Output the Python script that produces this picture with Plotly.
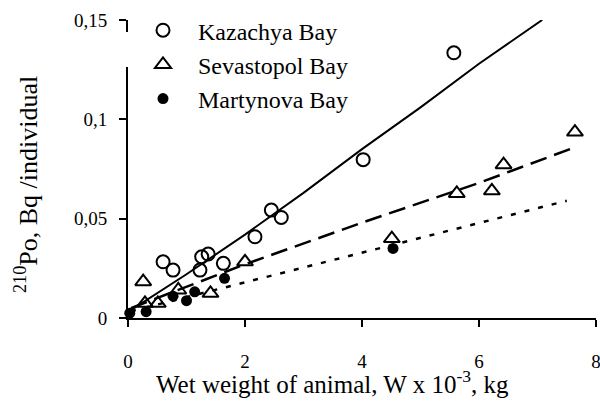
import plotly.graph_objects as go

# Kazachya Bay (open circles)
kaz_x = [0.60, 0.77, 1.23, 1.26, 1.37, 1.63, 2.17, 2.45, 2.62, 4.02, 5.57]
kaz_y = [0.0283, 0.0241, 0.0241, 0.0308, 0.0322, 0.0275, 0.0409, 0.0543, 0.0506, 0.0797, 0.1335]
# Sevastopol Bay (open triangles)
sev_x = [0.26, 0.29, 0.51, 0.86, 1.41, 2.00, 4.51, 5.62, 6.22, 6.42, 7.64]
sev_y = [0.0183, 0.0074, 0.0074, 0.0141, 0.0124, 0.0283, 0.0400, 0.0627, 0.0640, 0.0772, 0.0936]
# Martynova Bay (filled circles)
mar_x = [0.03, 0.31, 0.77, 1.00, 1.14, 1.65, 4.53]
mar_y = [0.0024, 0.0032, 0.0110, 0.0087, 0.0132, 0.0200, 0.0350]

# fitted curves
kaz_fit_x = [0.05, 1, 2, 3, 4, 5, 6, 7.08]
kaz_fit_y = [0.004, 0.022, 0.042, 0.063, 0.085, 0.106, 0.128, 0.150]
sev_fit_x = [0.05, 2, 4, 6, 7.6]
sev_fit_y = [0.005, 0.027, 0.048, 0.068, 0.0855]
mar_fit_x = [0.05, 2, 4, 6, 7.5]
mar_fit_y = [0.0034, 0.018, 0.033, 0.048, 0.059]

legend_names = ["Kazachya Bay", "Sevastopol Bay", "Martynova Bay"]
x_ticks = [0, 2, 4, 6, 8]
x_ticktext = ["0", "2", "4", "6", "8"]
y_ticks = [0, 0.05, 0.1, 0.15]
y_ticktext = ["0", "0,05", "0,1", "0,15"]

FONT = "Liberation Serif"
fig = go.Figure()

fig.add_trace(go.Scatter(x=kaz_fit_x, y=kaz_fit_y, mode="lines", showlegend=False,
                         line=dict(color="black", width=2)))
fig.add_trace(go.Scatter(x=sev_fit_x, y=sev_fit_y, mode="lines", showlegend=False,
                         line=dict(color="black", width=2.5, dash="17px,8px")))
fig.add_trace(go.Scatter(x=mar_fit_x, y=mar_fit_y, mode="lines", showlegend=False,
                         line=dict(color="black", width=2.5, dash="5px,9px")))

fig.add_trace(go.Scatter(x=kaz_x, y=kaz_y, mode="markers", name=legend_names[0], legendgroup="a",
                         cliponaxis=False,
                         marker=dict(symbol="circle-open", size=13, color="black", line=dict(width=2))))
fig.add_trace(go.Scatter(x=sev_x, y=sev_y, mode="markers", name=legend_names[1], legendgroup="b",
                         cliponaxis=False,
                         marker=dict(symbol="triangle-up-open", size=14, color="black", line=dict(width=2))))
fig.add_trace(go.Scatter(x=mar_x, y=mar_y, mode="markers", name=legend_names[2], legendgroup="c",
                         cliponaxis=False,
                         marker=dict(symbol="circle", size=11, color="black")))

axis_common = dict(showline=True, linewidth=2, linecolor="black", ticks="outside",
                   tickwidth=2, ticklen=7, tickcolor="black", showgrid=False, zeroline=False,
                   ticklabeloverflow="allow", automargin=False,
                   tickfont=dict(family=FONT, size=19, color="black"))

fig.update_xaxes(range=[0, 8], tickvals=x_ticks, ticktext=x_ticktext, ticklabelstandoff=18, **axis_common)
fig.update_yaxes(range=[0, 0.15], tickvals=y_ticks, ticktext=y_ticktext, ticklabelstandoff=8, **axis_common)

fig.update_layout(
    width=600, height=403,
    margin=dict(l=128, r=4, t=20, b=85, autoexpand=False),
    plot_bgcolor="white", paper_bgcolor="white",
    font=dict(family=FONT, color="black"),
    legend=dict(x=0.0, y=1.04, xanchor="left", yanchor="top", bgcolor="rgba(0,0,0,0)",
                font=dict(family=FONT, size=24, color="black"), tracegroupgap=0,
                itemwidth=60),
    shapes=[
        dict(type="rect", xref="paper", yref="paper", layer="above",
             x0=-4 / 468, x1=4 / 468, y0=(318 - 67) / 298, y1=(318 - 32) / 298,
             fillcolor="white", line=dict(width=0)),
    ],
    annotations=[
        dict(text="Wet weight of animal, W x 10<sup>-3</sup>, kg", xref="paper", yref="paper",
             x=(332 - 128) / 468, y=(318 - 382) / 298, xanchor="center", yanchor="middle",
             showarrow=False, font=dict(family=FONT, size=25, color="black")),
        dict(text="<sup>210</sup>Po, Bq /individual", xref="paper", yref="paper",
             x=(27 - 128) / 468, y=(318 - 185) / 298, xanchor="center", yanchor="middle",
             textangle=-90, showarrow=False, font=dict(family=FONT, size=26, color="black")),
    ],
)

fig.write_html("out.html")
